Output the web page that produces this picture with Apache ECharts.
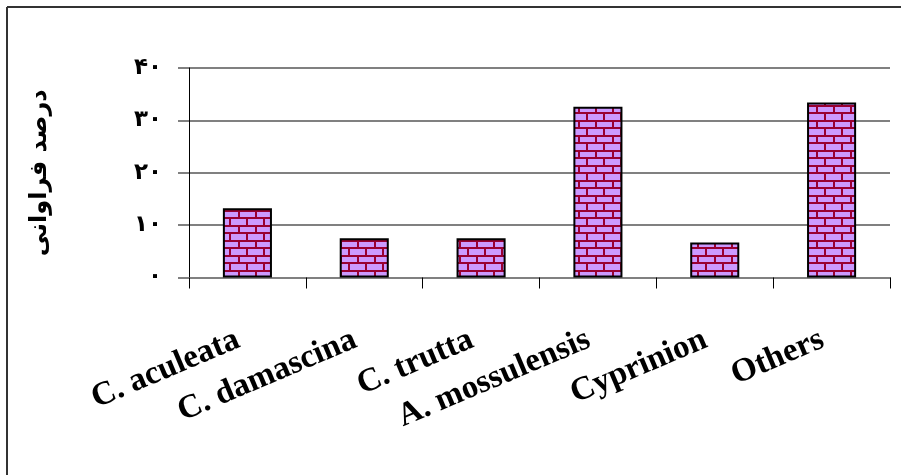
<!DOCTYPE html>
<html>
<head>
<meta charset="utf-8">
<script src="https://cdn.jsdelivr.net/npm/echarts@6/dist/echarts.min.js"></script>
<style>
html,body{margin:0;padding:0;background:#fff;}
#c{width:901px;height:475px;}
</style>
</head>
<body>
<div id="c"></div>
<script>
const categories = ['C. aculeata', 'C. damascina', 'C. trutta', 'A. mossulensis', 'Cyprinion', 'Others'];
const values = [13.2, 7.5, 7.5, 32.6, 6.7, 33.4];
const yTickLabels = ['۰', '۱۰', '۲۰', '۳۰', '۴۰'];
const yTitle = 'درصد فراوانی';

// brick pattern tile
const tile = document.createElement('canvas');
tile.width = 17; tile.height = 15;
const g = tile.getContext('2d');
g.fillStyle = '#cc99ff';
g.fillRect(0, 0, 17, 15);
g.fillStyle = '#990033';
g.fillRect(0, 0, 17, 2);
g.fillRect(0, 7, 17, 2);
g.fillRect(0, 0, 2, 7);
g.fillRect(8, 7, 2, 8);

const chart = echarts.init(document.getElementById('c'), null, {renderer: 'canvas'});
chart.setOption({
  animation: false,
  backgroundColor: '#fff',
  grid: {left: 189, right: 11, top: 68, bottom: 197.5, containLabel: false},
  xAxis: {
    type: 'category',
    data: categories,
    boundaryGap: true,
    axisLine: {show: true, lineStyle: {color: '#808080', width: 2}},
    axisTick: {show: true, alignWithLabel: false, length: 11, lineStyle: {color: '#000', width: 1}},
    axisLabel: {
      interval: 0, rotate: 23, margin: 57,
      fontFamily: 'Liberation Serif', fontWeight: 'bold', fontSize: 33, color: '#000',
      padding: [0, 10, 0, 0]
    }
  },
  yAxis: {
    type: 'value', min: 0, max: 40, interval: 10,
    name: yTitle, nameLocation: 'middle', nameGap: 137, nameRotate: 90,
    nameTextStyle: {fontFamily: 'DejaVu Sans', fontWeight: 'bold', fontSize: 24, color: '#000'},
    axisLine: {show: true, lineStyle: {color: '#000', width: 1}},
    axisTick: {show: true, length: 11, lineStyle: {color: '#808080', width: 2}},
    splitLine: {show: true, lineStyle: {color: '#808080', width: 2}},
    axisLabel: {
      margin: 27, fontFamily: 'DejaVu Sans', fontWeight: 'bold', fontSize: 23, color: '#000',
      formatter: function (v) { return yTickLabels[Math.round(v / 10)]; }
    }
  },
  series: [{
    type: 'bar',
    data: values,
    barWidth: '42%',
    itemStyle: {color: {image: tile, repeat: 'repeat'}, borderColor: '#000', borderWidth: 2}
  }],
  graphic: [
    {type: 'line', shape: {x1: 7, y1: 7, x2: 901, y2: 7}, style: {stroke: '#333', lineWidth: 2}},
    {type: 'line', shape: {x1: 7, y1: 7, x2: 7, y2: 475}, style: {stroke: '#333', lineWidth: 2}}
  ]
});
</script>
</body>
</html>
